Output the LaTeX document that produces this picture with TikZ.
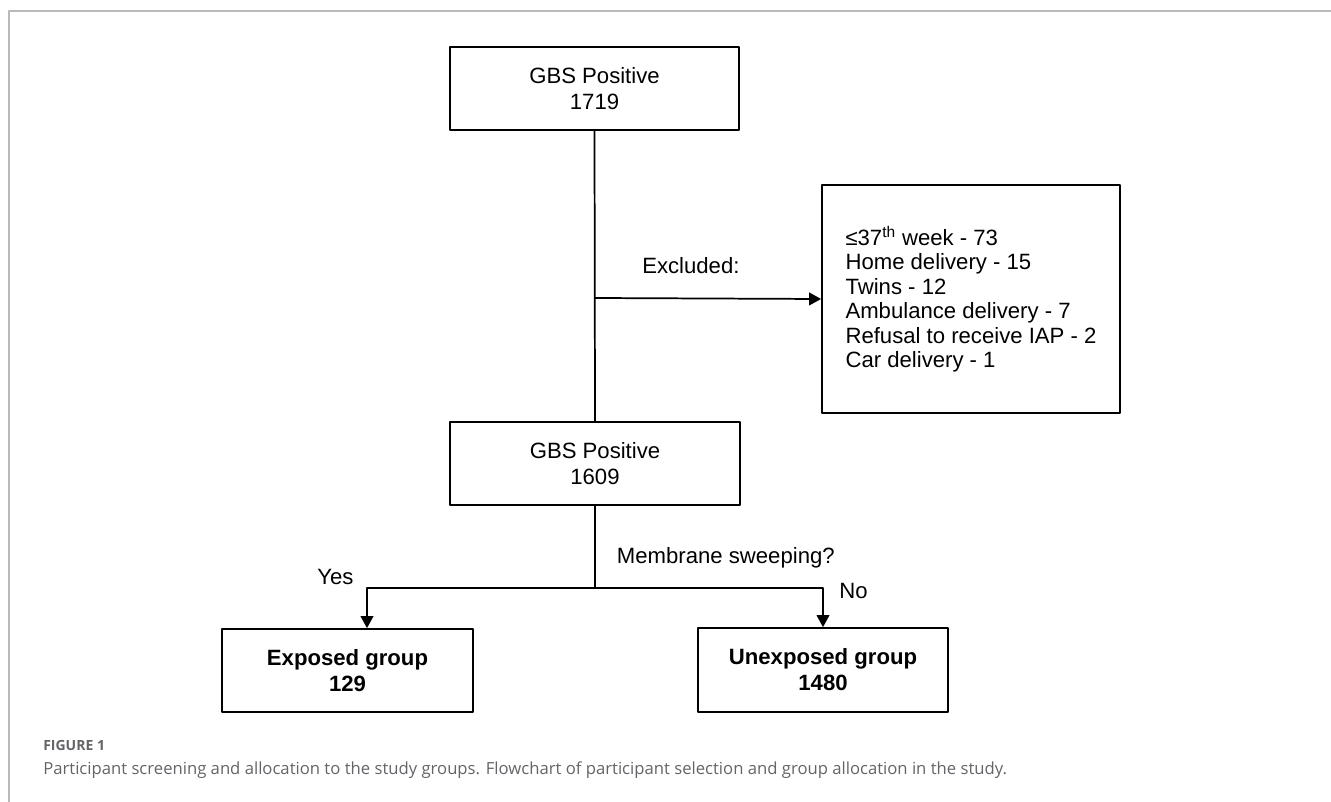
\documentclass[tikz,border=0pt]{standalone}
\usepackage{fontspec}
\setmainfont{Liberation Sans}
\newfontfamily\capfont{Open Sans}
\usetikzlibrary{arrows}
\usetikzlibrary{arrows.meta}
\definecolor{framegray}{RGB}{185,185,185}
\definecolor{capgray}{RGB}{100,100,104}
\begin{document}
\begin{tikzpicture}[line cap=round,line join=round,>={Triangle[length=9pt,width=9.5pt]},x=0.75pt,y=-0.75pt,
  flowbox/.style={draw,line width=1.3pt,align=center,inner sep=0pt,font=\fontsize{16.6}{19.5}\selectfont},
  flowlabel/.style={inner sep=0pt,font=\fontsize{16.6}{19.5}\selectfont}]
\useasboundingbox (0,0) rectangle (1331,802);
% page frame
\draw [line width=1.2pt,color=framegray] (9,802)-- (9,11)-- (1331,11);
% boxes
\node[flowbox,minimum width=216.75pt,minimum height=62.25pt] (gbsA) at (594.5,88.5) {GBS Positive\\1719};
\node[flowbox,minimum width=223.5pt,minimum height=171pt,align=left,font=\fontsize{16.6}{18.3}\selectfont] (excl) at (971,299) {%
≤37\textsuperscript{th} week - 73\\
Home delivery - 15\\
Twins - 12\\
Ambulance delivery - 7\\
Refusal to receive IAP - 2\\
Car delivery - 1};
\node[flowbox,minimum width=217.5pt,minimum height=62.25pt] (gbsB) at (595,463.5) {GBS Positive\\1609};
\node[flowbox,minimum width=188.25pt,minimum height=62.25pt,font=\fontsize{16.6}{19.5}\selectfont\bfseries] (exposed) at (347.5,670.5) {Exposed group\\129};
\node[flowbox,minimum width=187.5pt,minimum height=63pt,font=\fontsize{16.6}{19.5}\selectfont\bfseries] (unexposed) at (823,670) {Unexposed group\\1480};
% connectors
\coordinate (branch) at (595,298);
\coordinate (split) at (595,588);
\coordinate (yes) at (367,588);
\coordinate (no) at (823,588);
\draw [line width=1.3pt] (gbsA.south)-- (gbsB.north);
\draw [line width=1.3pt,->] (branch)-- (excl.west);
\draw [line width=1.3pt] (gbsB.south)-- (split);
\draw [line width=1.3pt,->] (split)-- (yes)-- (yes |- exposed.north);
\draw [line width=1.3pt,->] (split)-- (no)-- (no |- unexposed.north);
% labels
\node[flowlabel,anchor=base west] (exclLabel) at (642,273) {Excluded:};
\node[flowlabel,anchor=base east] (sweepLabel) at (835,563) {Membrane sweeping?};
\node[flowlabel,anchor=base west] (yesLabel) at (317,584) {Yes};
\node[flowlabel,anchor=base west] (noLabel) at (839,598) {No};
% caption
\node[inner sep=0pt,anchor=base west,text=capgray,font=\capfont\bfseries\fontsize{10.5}{12}\selectfont] (figLabel) at (43,750) {FIGURE 1};
\node[inner sep=0pt,anchor=base west,text=capgray,font=\capfont\fontsize{12.5}{15}\selectfont] (caption) at (43,774) {Participant screening and allocation to the study groups. Flowchart of participant selection and group allocation in the study.};
\end{tikzpicture}
\end{document}
